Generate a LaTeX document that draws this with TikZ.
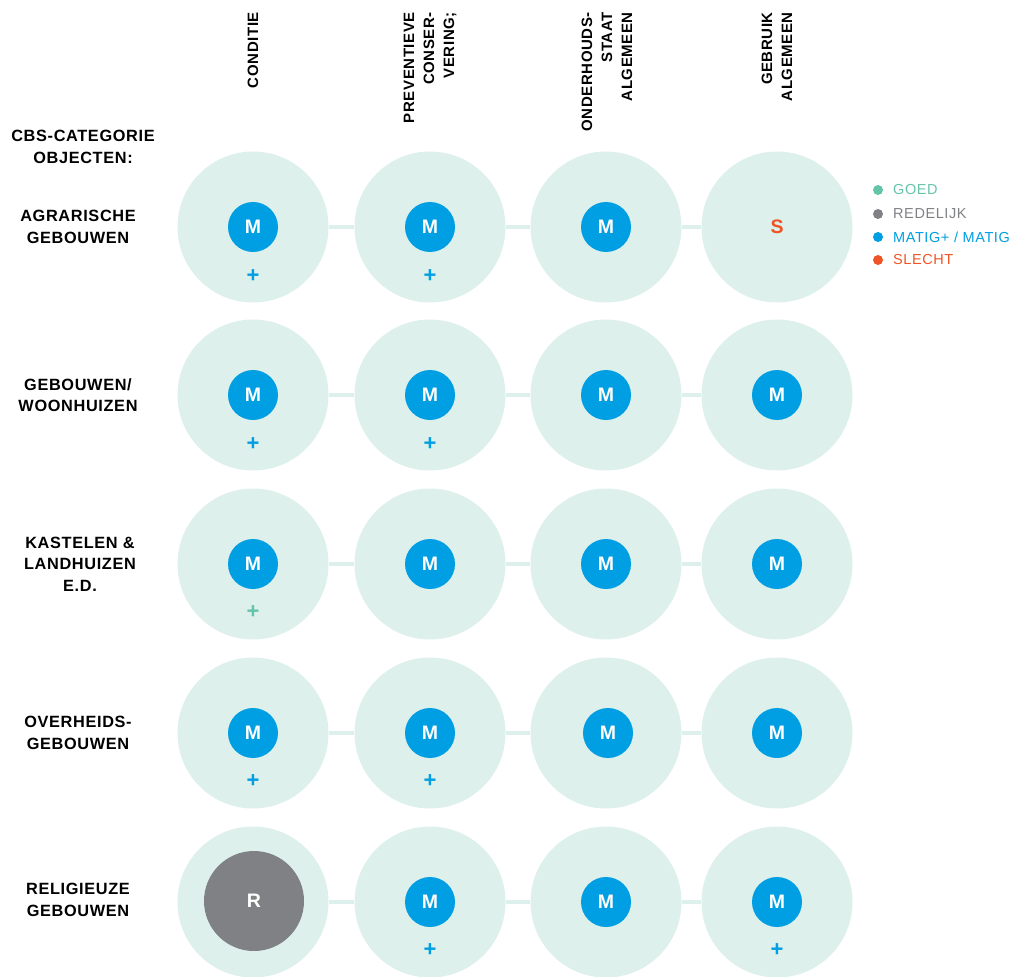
\documentclass[tikz,border=0pt]{standalone}
\usepackage{fontspec}
\setmainfont[LetterSpace=4]{Liberation Sans}
\usetikzlibrary{positioning}
\definecolor{cirkel}{RGB}{221,240,235}
\definecolor{goed}{RGB}{100,196,170}
\definecolor{redelijk}{RGB}{128,129,132}
\definecolor{matig}{RGB}{0,158,226}
\definecolor{slecht}{RGB}{238,84,38}

\tikzset{
	groot/.style={circle, fill=cirkel, minimum size=151pt, inner sep=0pt},
	klein/.style={circle, fill=matig, minimum size=50pt, inner sep=0pt, text=white, font=\fontsize{19.5}{20}\selectfont\bfseries},
	plusteken/.style={inner sep=0pt, text=matig, font=\fontsize{22}{22}\selectfont\bfseries},
	verbinder/.style={draw=cirkel, line width=4pt},
	rij/.style={align=center, font=\fontsize{16.3}{21.5}\selectfont\bfseries},
	kop/.style={rotate=90, anchor=east, align=right, inner sep=0pt, font=\fontsize{15}{20}\selectfont\bfseries},
	bol/.style={circle, inner sep=0pt, minimum size=10pt},
	legenda/.style={anchor=west, inner sep=0pt, font=\fontsize{14.5}{16}\selectfont}
}

\begin{document}
\begin{tikzpicture}[x=1pt, y=-1pt]
	\useasboundingbox (0,0) rectangle (1016,976);

	% kolomkoppen
	\node[kop] (k1) at (253,12) {CONDITIE};
	\node[kop] (k2) at (430,12) {PREVENTIEVE\\CONSER-\\VERING;};
	\node[kop] (k3) at (607,12) {ONDERHOUDS-\\STAAT\\ALGEMEEN};
	\node[kop] (k4) at (777,12) {GEBRUIK\\ALGEMEEN};

	% rijlabels
	\node[rij] (cbs) at (83,147) {CBS-CATEGORIE\\OBJECTEN:};
	\node[rij] (l1) at (78,227) {AGRARISCHE\\GEBOUWEN};
	\node[rij] (l2) at (78,395) {GEBOUWEN/\\WOONHUIZEN};
	\node[rij] (l3) at (80,564) {KASTELEN \&\\LANDHUIZEN\\E.D.};
	\node[rij] (l4) at (78,733) {OVERHEIDS-\\GEBOUWEN};
	\node[rij] (l5) at (78,900) {RELIGIEUZE\\GEBOUWEN};

	% rij 1
	\node[groot] (r1c1) at (253,227) {};
	\node[groot] (r1c2) at (430,227) {};
	\node[groot] (r1c3) at (606,227) {};
	\node[groot] (r1c4) at (777,227) {};
	\draw[verbinder] (r1c1) -- (r1c2);
	\draw[verbinder] (r1c2) -- (r1c3);
	\draw[verbinder] (r1c3) -- (r1c4);
	\node[klein] (m11) at (r1c1) {M};
	\node[klein] (m12) at (r1c2) {M};
	\node[klein] (m13) at (r1c3) {M};
	\node[inner sep=0pt, text=slecht, font=\fontsize{19.5}{20}\selectfont\bfseries] (m14) at (r1c4) {S};
	\node[plusteken] (p11) at (253,276) {+};
	\node[plusteken] (p12) at (430,276) {+};

	% rij 2
	\node[groot] (r2c1) at (253,395) {};
	\node[groot] (r2c2) at (430,395) {};
	\node[groot] (r2c3) at (606,395) {};
	\node[groot] (r2c4) at (777,395) {};
	\draw[verbinder] (r2c1) -- (r2c2);
	\draw[verbinder] (r2c2) -- (r2c3);
	\draw[verbinder] (r2c3) -- (r2c4);
	\node[klein] (m21) at (r2c1) {M};
	\node[klein] (m22) at (r2c2) {M};
	\node[klein] (m23) at (r2c3) {M};
	\node[klein] (m24) at (r2c4) {M};
	\node[plusteken] (p21) at (253,444) {+};
	\node[plusteken] (p22) at (430,444) {+};

	% rij 3
	\node[groot] (r3c1) at (253,564) {};
	\node[groot] (r3c2) at (430,564) {};
	\node[groot] (r3c3) at (606,564) {};
	\node[groot] (r3c4) at (777,564) {};
	\draw[verbinder] (r3c1) -- (r3c2);
	\draw[verbinder] (r3c2) -- (r3c3);
	\draw[verbinder] (r3c3) -- (r3c4);
	\node[klein] (m31) at (r3c1) {M};
	\node[klein] (m32) at (r3c2) {M};
	\node[klein] (m33) at (r3c3) {M};
	\node[klein] (m34) at (r3c4) {M};
	\node[plusteken, text=goed] (p31) at (253,612) {+};

	% rij 4
	\node[groot] (r4c1) at (253,733) {};
	\node[groot] (r4c2) at (430,733) {};
	\node[groot] (r4c3) at (606,733) {};
	\node[groot] (r4c4) at (777,733) {};
	\draw[verbinder] (r4c1) -- (r4c2);
	\draw[verbinder] (r4c2) -- (r4c3);
	\draw[verbinder] (r4c3) -- (r4c4);
	\node[klein] (m41) at (r4c1) {M};
	\node[klein] (m42) at (r4c2) {M};
	\node[klein] (m43) at (608,733) {M};
	\node[klein] (m44) at (r4c4) {M};
	\node[plusteken] (p41) at (253,781) {+};
	\node[plusteken] (p42) at (430,781) {+};

	% rij 5
	\node[groot] (r5c1) at (253,902) {};
	\node[groot] (r5c2) at (430,902) {};
	\node[groot] (r5c3) at (606,902) {};
	\node[groot] (r5c4) at (777,902) {};
	\draw[verbinder] (r5c1) -- (r5c2);
	\draw[verbinder] (r5c2) -- (r5c3);
	\draw[verbinder] (r5c3) -- (r5c4);
	\node[klein, fill=redelijk, minimum size=100pt] (m51) at (254,901) {R};
	\node[klein] (m52) at (r5c2) {M};
	\node[klein] (m53) at (r5c3) {M};
	\node[klein] (m54) at (r5c4) {M};
	\node[plusteken] (p52) at (430,950) {+};
	\node[plusteken] (p54) at (777,950) {+};

	% legenda
	\node[bol, fill=goed] (b1) at (878,190) {};
	\node[bol, fill=redelijk] (b2) at (878,214) {};
	\node[bol, fill=matig] (b3) at (878,237) {};
	\node[bol, fill=slecht] (b4) at (878,260) {};
	\node[legenda, text=goed] (t1) at (893,190) {GOED};
	\node[legenda, text=redelijk] (t2) at (893,214) {REDELIJK};
	\node[legenda, text=matig] (t3) at (893,237) {MATIG+ / MATIG};
	\node[legenda, text=slecht] (t4) at (893,260) {SLECHT};

\end{tikzpicture}
\end{document}
